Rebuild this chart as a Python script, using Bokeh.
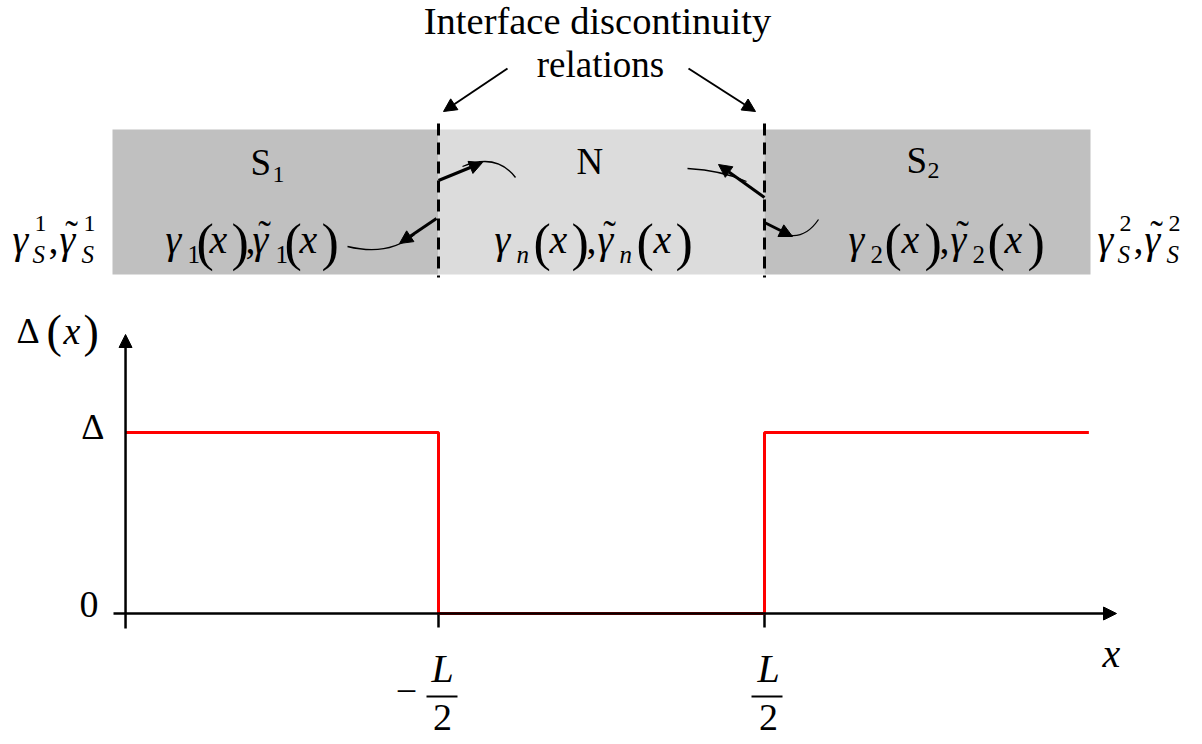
from bokeh.plotting import figure
from bokeh.models import Range1d, Arrow, NormalHead
from bokeh.core.properties import value
from bokeh.embed import file_html
from bokeh.resources import INLINE

# ---------------- data ----------------
region_names = ["S1", "N", "S2"]
region_left = [-3.0, -1.0, 1.0]          # in units of L/2
region_right = [-1.0, 1.0, 3.0]
region_colors = ["#c0c0c0", "#dcdcdc", "#c0c0c0"]
interfaces = [-1.0, 1.0]                  # x = -L/2, x = L/2
delta_x = [-2.92, -1.0, -1.0, 1.0, 1.0, 2.99]
delta_y = [1.0, 1.0, 0.0, 0.0, 1.0, 1.0]  # Δ(x) / Δ
x_tick_vals = [-1.0, 1.0]
y_tick_vals = [0.0, 1.0]
y_tick_labels = ["0", "Δ"]

# ---------------- layout helpers (page pixel -> data) ----------------
X0, SX = 601.0, 163.0
Y0, SY = 613.0, 181.0
def X(xi):
    return (xi - X0) / SX
def Y(yi):
    return (Y0 - yi) / SY
def PX(x):
    return X0 + x * SX

W, H = 1200, 742
p = figure(width=W, height=H, output_backend="svg", toolbar_location=None,
           x_range=Range1d(X(0), X(W)), y_range=Range1d(Y(H), Y(0)),
           x_axis_type=None, y_axis_type=None, min_border=0)
p.grid.visible = False
p.outline_line_color = None
p.background_fill_color = "white"

FONT = value("Liberation Serif")
BASE_FIX = 0.365  # compensation so that yi is the visual baseline

def T(txt, xi, yi, size, style="normal", align="left", font=FONT):
    p.text(x=[X(xi)], y=[Y(yi - BASE_FIX * size)], text=[txt], text_font=font,
           text_font_size=f"{size}px", text_font_style=style,
           text_align=align, text_baseline="alphabetic", text_color="black")

# ---------------- band diagram ----------------
band_top, band_bottom = Y(129), Y(274)
p.quad(left=region_left, right=region_right, top=band_top, bottom=band_bottom,
       fill_color=region_colors, line_color=None)
for xi in interfaces:
    p.line(x=[xi, xi], y=[Y(123), Y(277)], line_color="black", line_width=3,
           line_dash="12 7")

T("S", 250, 176, 37)
T("1", 272, 183, 24)
T("N", 576, 175, 37)
T("S", 906, 174, 37)
T("2", 927, 179, 24)

def expr(x0, offs, sub, sub_style):
    o = [x0 + d for d in offs]
    T("γ", o[0], 254, 40, "italic")
    T(sub, o[1], 263, 25, sub_style)
    T("(", o[2] - 1, 261, 52)
    T("x", o[3] - 1, 254, 40, "italic")
    T(")", o[4] - 1, 261, 52)
    T(",", o[5] - 1, 254, 40)
    T("γ", o[6], 254, 40, "italic")
    T("˜", o[6] + 12, 247, 38, "normal", "center")
    T(sub, o[7], 263, 25, sub_style)
    T("(", o[8] - 1, 261, 52)
    T("x", o[9] - 1, 254, 40, "italic")
    T(")", o[10] - 1, 261, 52)

expr(165, [0, 22, 32, 45, 67, 81, 87, 110, 120, 135, 157], "1", "normal")
expr(494, [0, 22, 40, 56, 78, 93, 103, 125, 143, 160, 182], "n", "italic")
expr(848, [0, 22, 37, 54, 77, 92, 102, 124, 140, 157, 180], "2", "normal")

def bulk(x0, sup):
    T("γ", x0, 254, 40, "italic")
    T("S", x0 + 20, 263, 25, "italic")
    T(sup, x0 + 22, 232, 24)
    T(",", x0 + 36, 254, 40)
    T("γ", x0 + 47, 254, 40, "italic")
    T("˜", x0 + 59, 247, 38, "normal", "center")
    T("S", x0 + 69, 263, 25, "italic")
    T(sup, x0 + 71, 232, 24)

bulk(12, "1")
bulk(1097, "2")

T("Interface discontinuity", 597, 35, 38.5, "normal", "center")
T("relations", 600, 78, 37, "normal", "center")
for (xs, ys, xe, ye) in [(507, 68, 443, 111), (688, 68, 755, 111)]:
    p.add_layout(Arrow(end=NormalHead(size=13, fill_color="black", line_color="black"),
                       x_start=X(xs), y_start=Y(ys), x_end=X(xe), y_end=Y(ye),
                       line_width=2, line_color="black"))

curves = [
    ((347, 246), (388, 256), (414, 234)),
    ((462, 166), (496, 152), (515, 177)),
    ((687, 168), (722, 170), (746, 181)),
    ((782, 233), (803, 241), (818, 219)),
]
for (a, c, b) in curves:
    p.quadratic(x0=[X(a[0])], y0=[Y(a[1])], x1=[X(b[0])], y1=[Y(b[1])],
                cx=[X(c[0])], cy=[Y(c[1])], line_color="black", line_width=1.3)
pointers = [(436, 218, 399, 243), (438, 180, 482, 162),
            (764, 197, 718, 164), (764, 222, 792, 236)]
for (xs, ys, xe, ye) in pointers:
    p.add_layout(Arrow(end=NormalHead(size=13, fill_color="black", line_color="black"),
                       x_start=X(xs), y_start=Y(ys), x_end=X(xe), y_end=Y(ye),
                       line_width=3, line_color="black"))

# ---------------- step plot ----------------
axis_x = delta_x[0]
p.add_layout(Arrow(end=NormalHead(size=13, fill_color="black", line_color="black"),
                   x_start=X(113), y_start=0.0, x_end=X(1116), y_end=0.0,
                   line_width=2.5, line_color="black"))
p.add_layout(Arrow(end=NormalHead(size=13, fill_color="black", line_color="black"),
                   x_start=axis_x, y_start=Y(628), x_end=axis_x, y_end=Y(334),
                   line_width=2.5, line_color="black"))
for xv in x_tick_vals:
    p.line(x=[xv, xv], y=[0.0, Y(627)], line_color="black", line_width=2.5)

p.line(x=delta_x, y=delta_y, line_color="#ff0000", line_width=3)

T(y_tick_labels[0], 98, 618, 38, "normal", "right")
T(y_tick_labels[1], 104, 440, 36, "normal", "right")

for xv in x_tick_vals:
    cx = PX(xv)
    if xv < 0:
        T("−", cx - 32, 705, 38, "normal", "center")
    T("L", cx + 4, 683, 40, "italic", "center")
    p.line(x=[X(cx - 12), X(cx + 19)] if xv < 0 else [X(cx - 13), X(cx + 18)],
           y=[Y(696), Y(696)], line_color="black", line_width=2)
    T("2", cx + 4, 731, 38, "normal", "center")

T("x", 1102, 668, 40, "italic")

T("Δ", 16, 344, 36)
T("(", 46, 348, 46)
T("x", 63, 344, 38, "italic")
T(")", 83, 348, 46)

open("out.html", "w").write(file_html(p, INLINE))
